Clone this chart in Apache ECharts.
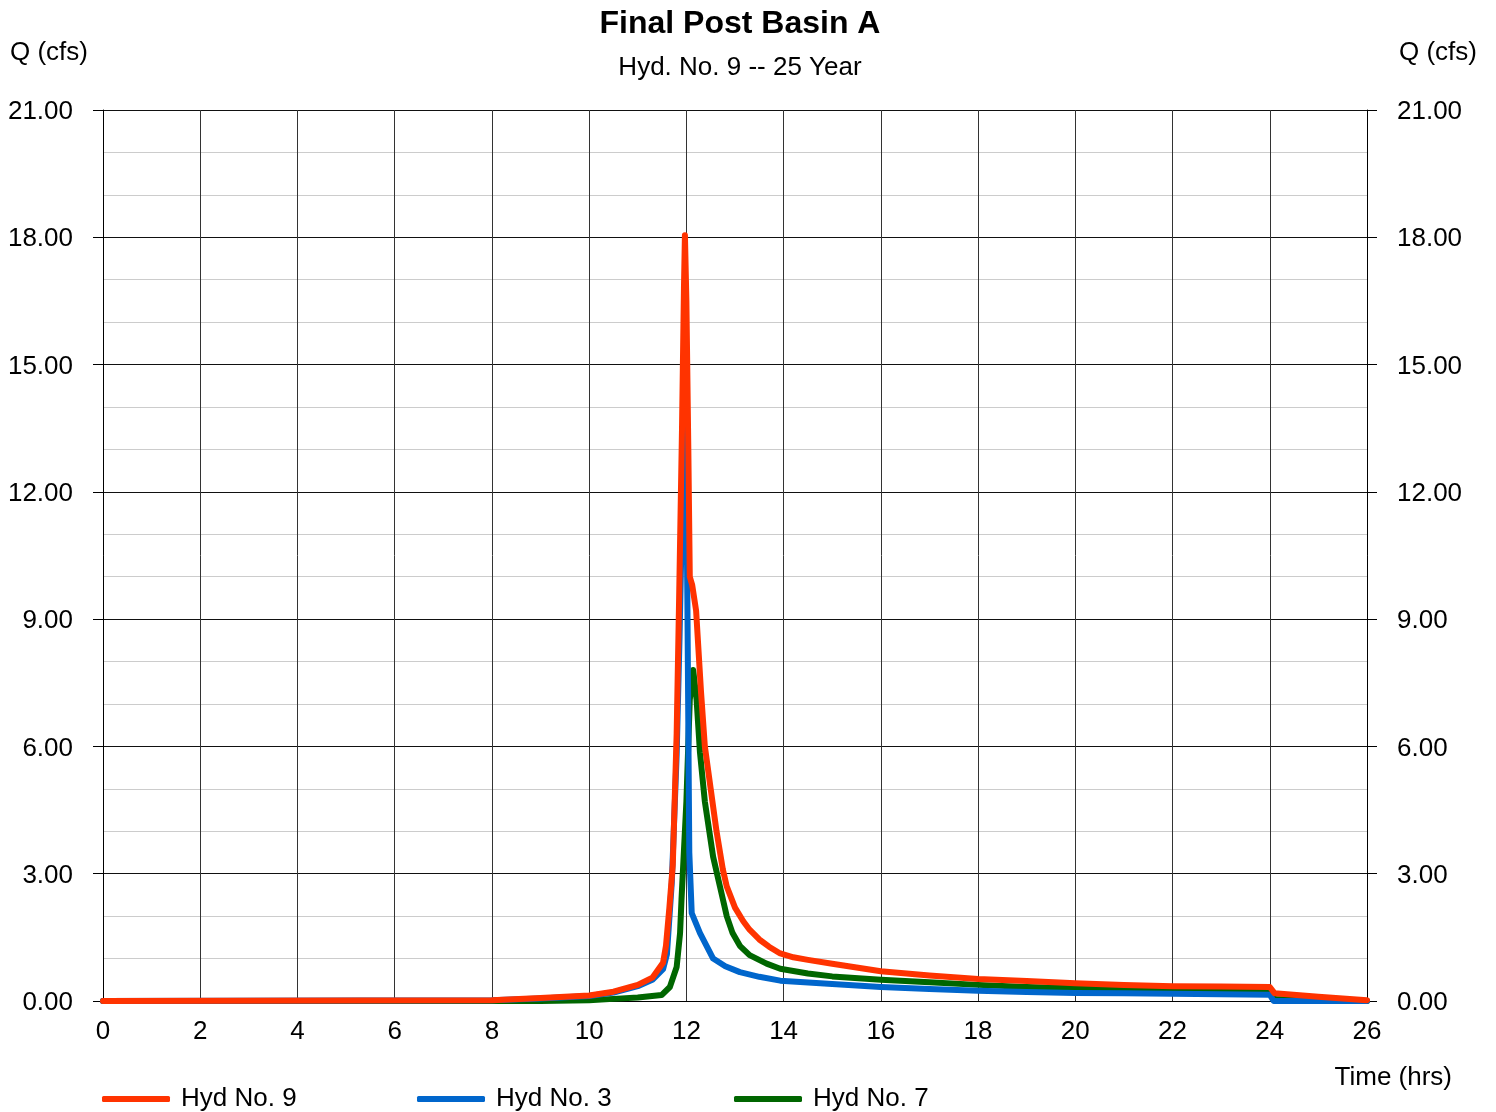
<!DOCTYPE html>
<html>
<head>
<meta charset="utf-8">
<script src="https://cdn.jsdelivr.net/npm/echarts@6/dist/echarts.min.js"></script>
<style>
html,body{margin:0;padding:0;background:#fff;}
#chart{width:1496px;height:1112px;}
</style>
</head>
<body>
<div id="chart"></div>
<script>
// ---- Data ----
const xTicks = [0, 2, 4, 6, 8, 10, 12, 14, 16, 18, 20, 22, 24, 26];
const yTicks = [0, 3, 6, 9, 12, 15, 18, 21];

const hyd9Time = [0, 8, 9, 10, 10.5, 11, 11.3, 11.52, 11.58, 11.65, 11.72, 11.8, 11.85, 11.91, 11.95, 11.97, 12.0, 12.04, 12.07, 12.12, 12.2, 12.3, 12.38, 12.5, 12.62, 12.75, 12.83, 13.0, 13.17, 13.3, 13.5, 13.7, 13.93, 14.2, 14.5, 15, 16, 17, 18, 19, 20, 21, 22, 23, 24, 24.1, 25, 26];
const hyd9Q    = [0, 0.02, 0.07, 0.13, 0.22, 0.38, 0.55, 0.9, 1.3, 2.2, 3.2, 6.3, 9.45, 13.5, 16.8, 18.05, 16.5, 13.0, 10.0, 9.8, 9.2, 7.3, 6.0, 5.0, 4.0, 3.1, 2.7, 2.2, 1.88, 1.68, 1.45, 1.28, 1.12, 1.03, 0.97, 0.88, 0.7, 0.6, 0.52, 0.47, 0.42, 0.38, 0.35, 0.34, 0.33, 0.18, 0.1, 0.02];

const hyd3Time = [0, 8, 9, 10, 10.5, 11, 11.3, 11.52, 11.6, 11.7, 11.8, 11.86, 11.92, 11.98, 12.02, 12.06, 12.11, 12.28, 12.55, 12.8, 13.1, 13.5, 13.93, 15, 16, 17, 18, 19, 20, 21, 22, 23, 24, 24.08, 25, 26];
const hyd3Q    = [0, 0.02, 0.06, 0.12, 0.2, 0.35, 0.5, 0.75, 1.1, 2.8, 5.8, 8.6, 12.0, 14.5, 9.5, 3.5, 2.07, 1.6, 1.0, 0.82, 0.68, 0.57, 0.48, 0.4, 0.33, 0.28, 0.24, 0.21, 0.19, 0.18, 0.17, 0.16, 0.15, 0.0, 0.0, 0.0];

const hyd7Time = [0, 9, 10, 10.5, 11, 11.49, 11.66, 11.8, 11.87, 11.9, 12.0, 12.07, 12.14, 12.21, 12.28, 12.38, 12.55, 12.69, 12.83, 12.95, 13.1, 13.3, 13.65, 13.93, 14.5, 15, 16, 17, 18, 19, 20, 21, 22, 23, 24, 24.1, 25, 26];
const hyd7Q    = [0, 0.0, 0.02, 0.05, 0.08, 0.14, 0.33, 0.8, 1.6, 2.4, 4.7, 7.1, 7.8, 7.1, 5.85, 4.7, 3.4, 2.7, 2.0, 1.6, 1.3, 1.08, 0.88, 0.76, 0.65, 0.58, 0.5, 0.44, 0.38, 0.33, 0.3, 0.27, 0.24, 0.23, 0.22, 0.05, 0.02, 0.0];

const seriesNames = ['Hyd No. 9', 'Hyd No. 3', 'Hyd No. 7'];
const seriesColors = ['#ff3300', '#0066cc', '#006600'];

function pairs(t, q) { return t.map((v, i) => [v, q[i]]); }

const FONT = '"Liberation Sans", Arial, sans-serif';
const chart = echarts.init(document.getElementById('chart'), null, {renderer: 'canvas'});

const yAxisBase = {
  type: 'value', min: 0, max: 21, interval: 3,
  axisLine: {show: true, lineStyle: {color: '#000', width: 1}},
  axisTick: {show: true, length: 10, lineStyle: {color: '#000'}},
  axisLabel: {fontFamily: FONT, fontSize: 26, color: '#000', margin: 30,
    formatter: v => '{a|' + v.toFixed(2) + '}',
    rich: {a: {fontFamily: FONT, fontSize: 26, color: '#000', padding: [4, 0, 0, 0]}}},
  minorTick: {show: false, splitNumber: 3},
  minorSplitLine: {show: true, lineStyle: {color: '#cccccc', width: 1}},
};

const option = {
  backgroundColor: '#fff',
  animation: false,
  title: [
    {text: 'Final Post Basin A', left: 735, top: 3, textAlign: 'center',
     textStyle: {fontFamily: FONT, fontSize: 32, fontWeight: 'bold', color: '#000'}},
    {text: 'Hyd. No. 9 -- 25 Year', left: 735, top: 50, textAlign: 'center',
     textStyle: {fontFamily: FONT, fontSize: 26, fontWeight: 'normal', color: '#000'}}
  ],
  grid: {left: 103, right: 129, top: 110, bottom: 111, containLabel: false},
  xAxis: {
    type: 'value', min: 0, max: 26, interval: 2,
    axisLine: {show: true, lineStyle: {color: '#000'}},
    axisTick: {show: false},
    axisLabel: {fontFamily: FONT, fontSize: 26, color: '#000', margin: 18},
    splitLine: {show: true, lineStyle: {color: '#333', width: 1}}
  },
  yAxis: [
    Object.assign({}, yAxisBase, {position: 'left',
      splitLine: {show: true, lineStyle: {color: '#111', width: 1}}}),
    Object.assign({}, yAxisBase, {position: 'right',
      splitLine: {show: false}, minorSplitLine: {show: false}})
  ],
  legend: seriesNames.map((n, i) => ({
    data: [n], left: [97, 412, 729][i], top: 1081,
    itemWidth: 68, itemHeight: 6, icon: 'roundRect', itemGap: 10,
    textStyle: {fontFamily: FONT, fontSize: 26, color: '#000', padding: [0, 0, 0, 6]}
  })),
  graphic: [
    {type: 'text', left: 10, top: 40, style: {text: 'Q (cfs)', font: '26px ' + FONT, fill: '#000'}},
    {type: 'text', right: 19, top: 40, style: {text: 'Q (cfs)', font: '26px ' + FONT, fill: '#000'}},
    {type: 'text', right: 44, top: 1065, style: {text: 'Time (hrs)', font: '26px ' + FONT, fill: '#000'}}
  ],
  series: [
    {name: seriesNames[0], type: 'line', data: pairs(hyd9Time, hyd9Q), z: 5},
    {name: seriesNames[1], type: 'line', data: pairs(hyd3Time, hyd3Q), z: 4},
    {name: seriesNames[2], type: 'line', data: pairs(hyd7Time, hyd7Q), z: 3}
  ].map((s, i) => Object.assign(s, {
    showSymbol: false, symbol: 'none', smooth: false, yAxisIndex: 0,
    color: seriesColors[i],
    lineStyle: {color: seriesColors[i], width: 6, join: 'round', cap: 'round'}
  }))
};
chart.setOption(option);
</script>
</body>
</html>
